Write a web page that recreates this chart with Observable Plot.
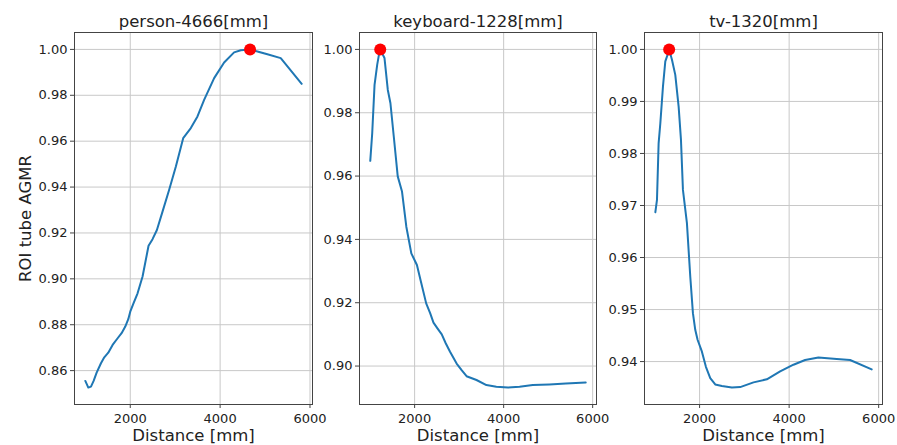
<!DOCTYPE html>
<html>
<head>
<meta charset="utf-8">
<script src="https://cdn.jsdelivr.net/npm/d3@7"></script>
<script src="https://cdn.jsdelivr.net/npm/@observablehq/plot@0.6"></script>
<style>
  html, body { margin: 0; padding: 0; background: #fff; }
  #wrap { position: relative; width: 897px; height: 445px; overflow: hidden; }
  #wrap svg { position: absolute; left: 0; top: 0; overflow: visible; }
</style>
</head>
<body>
<div id="wrap"></div>
<script>
// ---- data ----
const personX = [1000,1067,1126,1185,1252,1348,1422,1511,1607,1719,1807,1889,1956,2000,2074,2163,2274,2407,2496,2593,2718,2866,3015,3178,3348,3496,3644,3867,4089,4311,4459,4666,4830,5052,5349,5815];
const personY = [0.8555,0.8526,0.8530,0.8555,0.8591,0.8632,0.8658,0.8678,0.8712,0.8741,0.8763,0.8792,0.8824,0.8857,0.8894,0.8937,0.9010,0.9144,0.9173,0.9213,0.9293,0.9388,0.9490,0.9613,0.9657,0.9708,0.9780,0.9875,0.9943,0.9987,0.9996,1.0000,0.9991,0.9979,0.9962,0.9850];

const keyboardX = [1004,1048,1100,1160,1212,1228,1323,1398,1457,1532,1621,1717,1814,1926,2052,2141,2260,2349,2424,2513,2610,2699,2796,2944,3056,3167,3390,3613,3836,4097,4357,4654,5026,5398,5844];
const keyboardY = [0.9648,0.9736,0.9888,0.9952,0.9994,1.0000,0.9973,0.9872,0.9830,0.9725,0.9599,0.9551,0.9440,0.9356,0.9319,0.9267,0.9198,0.9167,0.9137,0.9119,0.9100,0.9072,0.9045,0.9008,0.8987,0.8968,0.8956,0.8940,0.8935,0.8932,0.8935,0.8940,0.8942,0.8945,0.8948];

const tvX = [1011,1048,1085,1123,1182,1234,1286,1320,1383,1457,1532,1584,1628,1717,1792,1851,1903,1955,2052,2141,2238,2349,2498,2721,2907,3204,3502,3799,4097,4357,4654,5063,5361,5844];
const tvY = [0.9687,0.9711,0.9820,0.9858,0.9929,0.9977,0.9990,1.0000,0.9980,0.9951,0.9890,0.9826,0.9730,0.9666,0.9563,0.9493,0.9461,0.9442,0.9419,0.9390,0.9368,0.9356,0.9353,0.9350,0.9351,0.9360,0.9366,0.9381,0.9394,0.9403,0.9408,0.9405,0.9403,0.9385];

const titles = ["person-4666[mm]", "keyboard-1228[mm]", "tv-1320[mm]"];
const peakX = [4666, 1228, 1320];
const peakY = [1.0, 1.0, 1.0];
const xTicks = [2000, 4000, 6000];
const personTicks = [0.86, 0.88, 0.90, 0.92, 0.94, 0.96, 0.98, 1.00];
const keyboardTicks = [0.90, 0.92, 0.94, 0.96, 0.98, 1.00];
const tvTicks = [0.94, 0.95, 0.96, 0.97, 0.98, 0.99, 1.00];
const xLabel = "Distance [mm]";
const yLabel = "ROI tube AGMR";

// ---- layout ----
const W = 897, H = 445;
const panels = [
  {xs: personX, ys: personY, yTicks: personTicks, left: 74, right: 312, showY: true},
  {xs: keyboardX, ys: keyboardY, yTicks: keyboardTicks, left: 359, right: 596, showY: false},
  {xs: tvX, ys: tvY, yTicks: tvTicks, left: 644, right: 882, showY: false}
];
const FONT = "DejaVu Sans, sans-serif";
const INK = "#222";

function pad(arr) {
  const lo = d3.min(arr), hi = d3.max(arr), w = hi - lo;
  return [lo - 0.05 * w, hi + 0.05 * w];
}

const wrap = document.getElementById("wrap");
panels.forEach((p, i) => {
  const data = p.xs.map((x, j) => ({x, y: p.ys[j]}));
  const marks = [
    Plot.gridX(xTicks, {stroke: "#c8c8c8", strokeOpacity: 1, strokeWidth: 1}),
    Plot.gridY(p.yTicks, {stroke: "#c8c8c8", strokeOpacity: 1, strokeWidth: 1}),
    Plot.line(data, {x: "x", y: "y", stroke: "#1f77b4", strokeWidth: 2}),
    Plot.dot([{x: peakX[i], y: peakY[i]}], {x: "x", y: "y", r: 6, fill: "#ff0000", stroke: "none"}),
    Plot.frame({stroke: "#444", strokeWidth: 1}),
    Plot.axisX(xTicks, {tickSize: 4, tickPadding: 5, fontSize: 13, color: INK, stroke: "#444", label: null, tickFormat: d3.format("d")}),
    Plot.axisY(p.yTicks, {tickSize: 4, tickPadding: 3, fontSize: 13, color: INK, stroke: "#444", label: null, tickFormat: d3.format(".2f")}),
    Plot.text([titles[i]], {text: d => d, frameAnchor: "top", lineAnchor: "middle", textAnchor: "middle", dy: -10.6, fontSize: 16.5, fill: INK, fontFamily: FONT}),
    Plot.text([xLabel], {text: d => d, frameAnchor: "bottom", lineAnchor: "middle", textAnchor: "middle", dy: 31.7, fontSize: 16.5, fill: INK, fontFamily: FONT})
  ];
  if (p.showY) {
    marks.push(Plot.text([yLabel], {text: d => d, frameAnchor: "left", lineAnchor: "middle", textAnchor: "middle", dx: -49, rotate: -90, fontSize: 16.5, fill: INK, fontFamily: FONT}));
  }
  const chart = Plot.plot({
    width: W, height: H,
    marginLeft: p.left, marginRight: W - p.right, marginTop: 32, marginBottom: 41,
    style: {fontFamily: FONT, background: "transparent", overflow: "visible"},
    x: {domain: pad(p.xs), ticks: xTicks},
    y: {domain: pad(p.ys), ticks: p.yTicks},
    marks
  });
  wrap.appendChild(chart);
});
</script>
</body>
</html>
